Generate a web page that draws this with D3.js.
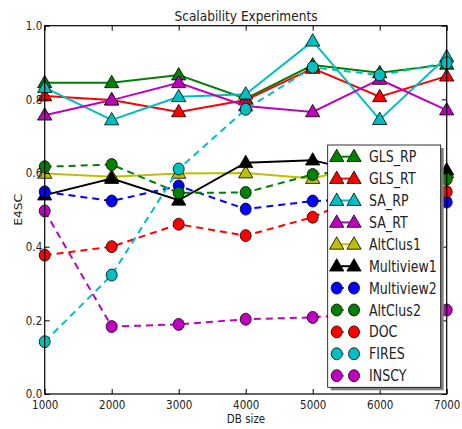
<!DOCTYPE html>
<html><head><meta charset="utf-8">
<script src="https://cdn.jsdelivr.net/npm/d3@7"></script>
<style>body{margin:0;background:#fff;}text{font-family:"DejaVu Sans",sans-serif;}</style>
</head><body><svg id="c" width="462" height="429"></svg>
<script>
const dbSizes = [1000, 2000, 3000, 4000, 5000, 6000, 7000];
const yTicks = [0.0, 0.2, 0.4, 0.6, 0.8, 1.0];
const seriesNames = ["GLS_RP","GLS_RT","SA_RP","SA_RT","AltClus1","Multiview1","Multiview2","AltClus2","DOC","FIRES","INSCY"];
const seriesColors = ["#008000","#ff0000","#00bfbf","#bf00bf","#bfbf00","#000000","#0000ff","#008000","#ff0000","#00bfbf","#bf00bf"];
const seriesMarkers = ["tri","tri","tri","tri","tri","tri","circ","circ","circ","circ","circ"];
const seriesDashed = [false,false,false,false,false,false,true,true,true,true,true];
const GLS_RP = [0.845,0.845,0.866,0.802,0.893,0.872,0.895];
const GLS_RT = [0.809,0.798,0.766,0.798,0.884,0.807,0.863];
const SA_RP = [0.832,0.744,0.807,0.814,0.958,0.745,0.915];
const SA_RT = [0.757,0.798,0.845,0.782,0.766,0.854,0.771];
const AltClus1 = [0.599,0.590,0.599,0.600,0.585,0.630,0.600];
const Multiview1 = [0.540,0.585,0.526,0.628,0.635,0.590,0.608];
const Multiview2 = [0.549,0.524,0.565,0.502,0.524,0.530,0.521];
const AltClus2 = [0.617,0.623,0.546,0.547,0.596,0.615,0.583];
const DOC = [0.377,0.400,0.461,0.430,0.480,0.560,0.549];
const FIRES = [0.142,0.323,0.611,0.773,0.887,0.866,0.899];
const INSCY = [0.497,0.183,0.189,0.203,0.208,0.220,0.228];
const seriesValues = [GLS_RP,GLS_RT,SA_RP,SA_RT,AltClus1,Multiview1,Multiview2,AltClus2,DOC,FIRES,INSCY];

const SX = 0.84; // horizontal text compression seen in the reference
const svg = d3.select("#c");
const L = 44.7, R = 446.7, T = 25.7, B = 394;
const x = d3.scaleLinear().domain([1000,7000]).range([L,R]);
const y = d3.scaleLinear().domain([0,1]).range([B,T]);

const line = d3.line().x((d,i)=>x(dbSizes[i])).y(d=>y(d));
const triPath = s => `M0,${-s}L${s*0.95},${s*0.65}L${-s*0.95},${s*0.65}Z`;

function drawMarker(g, type, color, cx, cy){
  if(type==="tri"){
    g.append("path").attr("d", triPath(7.5)).attr("transform",`translate(${cx},${cy})`)
      .attr("fill", color).attr("stroke","#000").attr("stroke-width",0.8);
  } else {
    g.append("ellipse").attr("cx",cx).attr("cy",cy).attr("rx",5.5).attr("ry",6)
      .attr("fill", color).attr("stroke","#000").attr("stroke-width",0.8);
  }
}
function label(px, py, str, size, anchor, rot){
  return svg.append("text").attr("transform",`translate(${px},${py})${rot?` rotate(${rot})`:""} scale(${rot?1:SX},${rot?SX:1})`)
    .attr("text-anchor",anchor).attr("font-size",size).attr("fill","#222").text(str);
}

const plot = svg.append("g");
svg.append("defs").append("clipPath").attr("id","clip").append("rect")
  .attr("x",L-8).attr("y",T-8).attr("width",R-L+16).attr("height",B-T+16);
plot.attr("clip-path","url(#clip)");

seriesValues.forEach((vals,k)=>{
  const g = plot.append("g");
  g.append("path").attr("d", line(vals)).attr("fill","none")
    .attr("stroke", seriesColors[k]).attr("stroke-width",2)
    .attr("stroke-dasharray", seriesDashed[k] ? "7,5" : null);
  vals.forEach((v,i)=>drawMarker(g, seriesMarkers[k], seriesColors[k], x(dbSizes[i]), y(v)));
});

svg.append("rect").attr("x",L).attr("y",T).attr("width",R-L).attr("height",B-T)
  .attr("fill","none").attr("stroke","#000").attr("stroke-width",1.2);

const xAxB = d3.axisBottom(x).tickValues(dbSizes).tickFormat(d3.format("d")).tickSizeInner(-5).tickSizeOuter(0).tickPadding(6);
const xAxT = d3.axisTop(x).tickValues(dbSizes).tickFormat("").tickSizeInner(-5).tickSizeOuter(0);
const yAxL = d3.axisLeft(y).tickValues(yTicks).tickFormat(d3.format(".1f")).tickSizeInner(-5).tickSizeOuter(0).tickPadding(3);
const yAxR = d3.axisRight(y).tickValues(yTicks).tickFormat("").tickSizeInner(-5).tickSizeOuter(0);
function styleAx(g){ g.select(".domain").remove(); g.selectAll("line").attr("stroke","#000");
  g.selectAll("text").attr("font-size",12.3).attr("fill","#222").style("font-family","DejaVu Sans"); }
svg.append("g").attr("transform",`translate(0,${B})`).call(xAxB).call(styleAx)
  .selectAll("text").attr("transform",`scale(${SX},1)`);
svg.append("g").attr("transform",`translate(0,${T})`).call(xAxT).call(styleAx);
svg.append("g").attr("transform",`translate(${L},0)`).call(yAxL).call(styleAx)
  .selectAll("text").attr("x",0).attr("text-anchor","end").attr("transform",`translate(-2.5,0) scale(${SX},1)`);
svg.append("g").attr("transform",`translate(${R},0)`).call(yAxR).call(styleAx);

label(246, 20.5, "Scalability Experiments", 14.5, "middle");
label(246, 422.5, "DB size", 12.3, "middle");
label(22, (T+B)/2, "E4SC", 12.3, "middle", -90);

const lg = svg.append("g");
const lx = 327.7, ly = 145, lw = 113, lh = 242.3;
lg.append("rect").attr("x",lx+3).attr("y",ly+3).attr("width",lw).attr("height",lh).attr("fill","#808080");
lg.append("rect").attr("x",lx).attr("y",ly).attr("width",lw).attr("height",lh).attr("fill","#fff").attr("stroke","#000").attr("stroke-width",0.8);
seriesNames.forEach((n,k)=>{
  const cy = 156.7 + k*21.9;
  lg.append("line").attr("x1",336.7).attr("x2",354).attr("y1",cy).attr("y2",cy)
    .attr("stroke",seriesColors[k]).attr("stroke-width",2)
    .attr("stroke-dasharray", seriesDashed[k] ? "7,5" : null);
  drawMarker(lg, seriesMarkers[k], seriesColors[k], 336.7, cy);
  drawMarker(lg, seriesMarkers[k], seriesColors[k], 354, cy);
  lg.append("text").attr("transform",`translate(369,${cy+5.5}) scale(${SX},1)`)
    .attr("font-size",15).attr("fill","#222").text(n);
});
</script></body></html>
